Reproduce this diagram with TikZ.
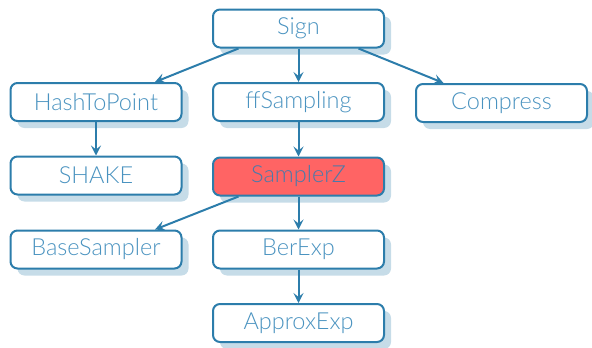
\documentclass[tikz,border=0pt]{standalone}
\usepackage{fontspec}
\setmainfont{Lato Light}
\usetikzlibrary{arrows.meta,shadows}
\definecolor{edge}{HTML}{2C7DAB}
\definecolor{txt}{HTML}{4A93C0}
\definecolor{hottxt}{HTML}{4A7AAA}
\definecolor{shade}{HTML}{C6DCE8}
\definecolor{hot}{HTML}{FF6464}
\tikzset{
  box/.style={draw=edge, line width=2pt, rounded corners=7pt, fill=white,
    minimum width=171pt, minimum height=38pt, text=txt, inner sep=0pt,
    font=\fontsize{23.5}{26}\selectfont,
    drop shadow={shadow xshift=7pt, shadow yshift=-7pt, fill=shade, opacity=1}},
  hotbox/.style={box, fill=hot, text=hottxt},
  link/.style={draw=edge, line width=2pt, -{Stealth[length=10pt,width=10pt,inset=4pt]}}
}
\begin{document}
\begin{tikzpicture}[x=1pt,y=-1pt]
\useasboundingbox (0,0) rectangle (592,348);
\node[box] (sign) at (298.5,28.5) {Sign};
\node[box] (h2p) at (96,102) {HashToPoint};
\node[box] (ffs) at (298.5,102) {ffSampling};
\node[box] (comp) at (501.5,103) {Compress};
\node[box] (shake) at (96,175.5) {SHAKE};
\node[hotbox] (sz) at (298.5,176.5) {SamplerZ};
\node[box] (base) at (96,249.5) {BaseSampler};
\node[box] (ber) at (298.5,249.5) {BerExp};
\node[box] (approx) at (298.5,323) {ApproxExp};
\draw[link] ([xshift=-60pt]sign.south) -- ([xshift=59pt]h2p.north);
\draw[link] (sign) -- (ffs);
\draw[link] ([xshift=60pt]sign.south) -- ([xshift=-58pt]comp.north);
\draw[link] (h2p) -- (shake);
\draw[link] (ffs) -- (sz);
\draw[link] ([xshift=-60pt]sz.south) -- ([xshift=59pt]base.north);
\draw[link] (sz) -- (ber);
\draw[link] (ber) -- (approx);
\end{tikzpicture}
\end{document}
